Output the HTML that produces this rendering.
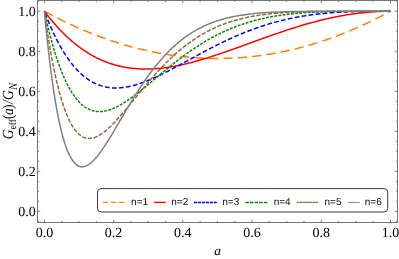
<!DOCTYPE html>
<html><head><meta charset="utf-8"><title>Geff(a)/GN</title><style>
html,body{margin:0;padding:0;background:#fff;}
body{width:399px;height:259px;overflow:hidden;font-family:"Liberation Serif",serif;}
svg{display:block;will-change:transform;text-rendering:geometricPrecision;}
.sf{font-family:"Liberation Serif",serif;}
.ss{font-family:"Liberation Sans",sans-serif;}
</style></head><body>
<svg width="399" height="259" viewBox="0 0 399 259">
<defs><clipPath id="c"><rect x="37.5" y="0.5" width="360.0" height="222.0"/></clipPath></defs>
<g clip-path="url(#c)" stroke-linejoin="round">
<polyline fill="none" stroke="#ff8000" stroke-width="1.5" stroke-dasharray="9.3 5.1" points="44.40,11.25 45.27,11.72 46.13,12.19 47.00,12.66 47.86,13.12 48.73,13.58 49.59,14.04 50.46,14.50 51.32,14.95 52.19,15.40 53.05,15.85 53.92,16.30 54.78,16.75 55.65,17.19 56.51,17.63 57.38,18.07 58.24,18.50 59.11,18.93 59.97,19.37 60.84,19.79 61.70,20.22 62.57,20.64 63.44,21.07 64.30,21.48 65.17,21.90 66.03,22.32 66.90,22.73 67.76,23.14 68.63,23.54 69.49,23.95 70.36,24.35 71.22,24.75 72.09,25.15 72.95,25.54 73.82,25.94 74.68,26.33 75.55,26.72 76.41,27.10 77.28,27.49 78.14,27.87 79.01,28.25 79.88,28.62 80.74,29.00 81.61,29.37 82.47,29.74 83.34,30.11 84.20,30.47 85.07,30.83 85.93,31.19 86.80,31.55 87.66,31.91 88.53,32.26 89.39,32.61 90.26,32.96 91.12,33.30 91.99,33.65 92.85,33.99 93.72,34.33 94.58,34.66 95.45,35.00 96.31,35.33 97.18,35.66 98.05,35.98 98.91,36.31 99.78,36.63 100.64,36.95 101.51,37.27 102.37,37.58 103.24,37.90 104.10,38.21 104.97,38.51 105.83,38.82 106.70,39.12 107.56,39.42 108.43,39.72 109.29,40.02 110.16,40.31 111.02,40.61 111.89,40.89 112.75,41.18 113.62,41.47 114.49,41.75 115.35,42.03 116.22,42.30 117.08,42.58 117.95,42.85 118.81,43.12 119.68,43.39 120.54,43.66 121.41,43.92 122.27,44.18 123.14,44.44 124.00,44.69 124.87,44.95 125.73,45.20 126.60,45.45 127.46,45.70 128.33,45.94 129.19,46.18 130.06,46.42 130.93,46.66 131.79,46.89 132.66,47.13 133.52,47.36 134.39,47.58 135.25,47.81 136.12,48.03 136.98,48.25 137.85,48.47 138.71,48.69 139.58,48.90 140.44,49.11 141.31,49.32 142.17,49.53 143.04,49.73 143.90,49.93 144.77,50.13 145.63,50.33 146.50,50.53 147.36,50.72 148.23,50.91 149.10,51.10 149.96,51.28 150.83,51.46 151.69,51.64 152.56,51.82 153.42,52.00 154.29,52.17 155.15,52.34 156.02,52.51 156.88,52.68 157.75,52.84 158.61,53.00 159.48,53.16 160.34,53.32 161.21,53.48 162.07,53.63 162.94,53.78 163.80,53.92 164.67,54.07 165.54,54.21 166.40,54.35 167.27,54.49 168.13,54.63 169.00,54.76 169.86,54.89 170.73,55.02 171.59,55.15 172.46,55.27 173.32,55.39 174.19,55.51 175.05,55.63 175.92,55.74 176.78,55.85 177.65,55.96 178.51,56.07 179.38,56.18 180.24,56.28 181.11,56.38 181.97,56.48 182.84,56.57 183.71,56.67 184.57,56.76 185.44,56.85 186.30,56.93 187.17,57.02 188.03,57.10 188.90,57.18 189.76,57.25 190.63,57.33 191.49,57.40 192.36,57.47 193.22,57.54 194.09,57.60 194.95,57.66 195.82,57.72 196.68,57.78 197.55,57.84 198.41,57.89 199.28,57.94 200.15,57.99 201.01,58.04 201.88,58.08 202.74,58.12 203.61,58.16 204.47,58.20 205.34,58.23 206.20,58.26 207.07,58.29 207.93,58.32 208.80,58.34 209.66,58.37 210.53,58.39 211.39,58.40 212.26,58.42 213.12,58.43 213.99,58.44 214.85,58.45 215.72,58.46 216.58,58.46 217.45,58.46 218.32,58.46 219.18,58.46 220.05,58.45 220.91,58.44 221.78,58.43 222.64,58.42 223.51,58.40 224.37,58.39 225.24,58.37 226.10,58.34 226.97,58.32 227.83,58.29 228.70,58.26 229.56,58.23 230.43,58.20 231.29,58.16 232.16,58.12 233.02,58.08 233.89,58.04 234.76,57.99 235.62,57.94 236.49,57.89 237.35,57.84 238.22,57.78 239.08,57.72 239.95,57.66 240.81,57.60 241.68,57.54 242.54,57.47 243.41,57.40 244.27,57.33 245.14,57.25 246.00,57.18 246.87,57.10 247.73,57.02 248.60,56.93 249.46,56.85 250.33,56.76 251.19,56.67 252.06,56.57 252.93,56.48 253.79,56.38 254.66,56.28 255.52,56.18 256.39,56.07 257.25,55.96 258.12,55.85 258.98,55.74 259.85,55.63 260.71,55.51 261.58,55.39 262.44,55.27 263.31,55.15 264.17,55.02 265.04,54.89 265.90,54.76 266.77,54.63 267.63,54.49 268.50,54.35 269.37,54.21 270.23,54.07 271.10,53.92 271.96,53.78 272.83,53.63 273.69,53.48 274.56,53.32 275.42,53.16 276.29,53.00 277.15,52.84 278.02,52.68 278.88,52.51 279.75,52.34 280.61,52.17 281.48,52.00 282.34,51.82 283.21,51.64 284.07,51.46 284.94,51.28 285.80,51.10 286.67,50.91 287.54,50.72 288.40,50.53 289.27,50.33 290.13,50.13 291.00,49.93 291.86,49.73 292.73,49.53 293.59,49.32 294.46,49.11 295.32,48.90 296.19,48.69 297.05,48.47 297.92,48.25 298.78,48.03 299.65,47.81 300.51,47.58 301.38,47.36 302.24,47.13 303.11,46.89 303.98,46.66 304.84,46.42 305.71,46.18 306.57,45.94 307.44,45.70 308.30,45.45 309.17,45.20 310.03,44.95 310.90,44.69 311.76,44.44 312.63,44.18 313.49,43.92 314.36,43.66 315.22,43.39 316.09,43.12 316.95,42.85 317.82,42.58 318.68,42.30 319.55,42.03 320.41,41.75 321.28,41.47 322.15,41.18 323.01,40.89 323.88,40.61 324.74,40.31 325.61,40.02 326.47,39.72 327.34,39.42 328.20,39.12 329.07,38.82 329.93,38.51 330.80,38.21 331.66,37.90 332.53,37.58 333.39,37.27 334.26,36.95 335.12,36.63 335.99,36.31 336.85,35.98 337.72,35.66 338.58,35.33 339.45,35.00 340.32,34.66 341.18,34.33 342.05,33.99 342.91,33.65 343.78,33.30 344.64,32.96 345.51,32.61 346.37,32.26 347.24,31.91 348.10,31.55 348.97,31.19 349.83,30.83 350.70,30.47 351.56,30.11 352.43,29.74 353.29,29.37 354.16,29.00 355.02,28.62 355.89,28.25 356.76,27.87 357.62,27.49 358.49,27.10 359.35,26.72 360.22,26.33 361.08,25.94 361.95,25.54 362.81,25.15 363.68,24.75 364.54,24.35 365.41,23.95 366.27,23.54 367.14,23.14 368.00,22.73 368.87,22.32 369.73,21.90 370.60,21.48 371.46,21.07 372.33,20.64 373.20,20.22 374.06,19.79 374.93,19.37 375.79,18.93 376.66,18.50 377.52,18.07 378.39,17.63 379.25,17.19 380.12,16.75 380.98,16.30 381.85,15.85 382.71,15.40 383.58,14.95 384.44,14.50 385.31,14.04 386.17,13.58 387.04,13.12 387.90,12.66 388.77,12.19 389.63,11.72 390.50,11.25"/>
<polyline fill="none" stroke="#ff0000" stroke-width="1.5" points="44.40,11.25 45.27,12.40 46.13,13.53 47.00,14.65 47.86,15.76 48.73,16.85 49.59,17.93 50.46,18.99 51.32,20.05 52.19,21.08 53.05,22.10 53.92,23.11 54.78,24.11 55.65,25.09 56.51,26.06 57.38,27.02 58.24,27.96 59.11,28.89 59.97,29.81 60.84,30.71 61.70,31.60 62.57,32.48 63.44,33.34 64.30,34.19 65.17,35.04 66.03,35.86 66.90,36.68 67.76,37.48 68.63,38.27 69.49,39.05 70.36,39.82 71.22,40.57 72.09,41.32 72.95,42.05 73.82,42.77 74.68,43.47 75.55,44.17 76.41,44.85 77.28,45.53 78.14,46.19 79.01,46.84 79.88,47.48 80.74,48.11 81.61,48.73 82.47,49.33 83.34,49.93 84.20,50.51 85.07,51.09 85.93,51.65 86.80,52.20 87.66,52.75 88.53,53.28 89.39,53.80 90.26,54.31 91.12,54.82 91.99,55.31 92.85,55.79 93.72,56.26 94.58,56.72 95.45,57.17 96.31,57.62 97.18,58.05 98.05,58.47 98.91,58.88 99.78,59.29 100.64,59.68 101.51,60.07 102.37,60.45 103.24,60.81 104.10,61.17 104.97,61.52 105.83,61.86 106.70,62.19 107.56,62.51 108.43,62.83 109.29,63.13 110.16,63.43 111.02,63.72 111.89,64.00 112.75,64.27 113.62,64.53 114.49,64.79 115.35,65.03 116.22,65.27 117.08,65.50 117.95,65.73 118.81,65.94 119.68,66.15 120.54,66.35 121.41,66.54 122.27,66.72 123.14,66.90 124.00,67.07 124.87,67.23 125.73,67.38 126.60,67.53 127.46,67.67 128.33,67.80 129.19,67.93 130.06,68.05 130.93,68.16 131.79,68.27 132.66,68.36 133.52,68.46 134.39,68.54 135.25,68.62 136.12,68.69 136.98,68.76 137.85,68.81 138.71,68.87 139.58,68.91 140.44,68.95 141.31,68.99 142.17,69.01 143.04,69.04 143.90,69.05 144.77,69.06 145.63,69.06 146.50,69.06 147.36,69.05 148.23,69.04 149.10,69.02 149.96,69.00 150.83,68.97 151.69,68.93 152.56,68.89 153.42,68.85 154.29,68.79 155.15,68.74 156.02,68.68 156.88,68.61 157.75,68.54 158.61,68.46 159.48,68.38 160.34,68.29 161.21,68.20 162.07,68.11 162.94,68.00 163.80,67.90 164.67,67.79 165.54,67.68 166.40,67.56 167.27,67.43 168.13,67.31 169.00,67.17 169.86,67.04 170.73,66.90 171.59,66.75 172.46,66.61 173.32,66.45 174.19,66.30 175.05,66.14 175.92,65.97 176.78,65.81 177.65,65.64 178.51,65.46 179.38,65.28 180.24,65.10 181.11,64.91 181.97,64.72 182.84,64.53 183.71,64.34 184.57,64.14 185.44,63.93 186.30,63.73 187.17,63.52 188.03,63.31 188.90,63.09 189.76,62.87 190.63,62.65 191.49,62.43 192.36,62.20 193.22,61.97 194.09,61.74 194.95,61.51 195.82,61.27 196.68,61.03 197.55,60.79 198.41,60.54 199.28,60.29 200.15,60.04 201.01,59.79 201.88,59.54 202.74,59.28 203.61,59.02 204.47,58.76 205.34,58.50 206.20,58.23 207.07,57.96 207.93,57.69 208.80,57.42 209.66,57.15 210.53,56.87 211.39,56.60 212.26,56.32 213.12,56.04 213.99,55.76 214.85,55.47 215.72,55.19 216.58,54.90 217.45,54.61 218.32,54.32 219.18,54.03 220.05,53.74 220.91,53.44 221.78,53.15 222.64,52.85 223.51,52.55 224.37,52.26 225.24,51.96 226.10,51.65 226.97,51.35 227.83,51.05 228.70,50.75 229.56,50.44 230.43,50.14 231.29,49.83 232.16,49.52 233.02,49.21 233.89,48.91 234.76,48.60 235.62,48.29 236.49,47.98 237.35,47.67 238.22,47.35 239.08,47.04 239.95,46.73 240.81,46.42 241.68,46.10 242.54,45.79 243.41,45.48 244.27,45.16 245.14,44.85 246.00,44.53 246.87,44.22 247.73,43.90 248.60,43.59 249.46,43.27 250.33,42.96 251.19,42.65 252.06,42.33 252.93,42.02 253.79,41.70 254.66,41.39 255.52,41.07 256.39,40.76 257.25,40.45 258.12,40.13 258.98,39.82 259.85,39.51 260.71,39.20 261.58,38.89 262.44,38.58 263.31,38.26 264.17,37.95 265.04,37.65 265.90,37.34 266.77,37.03 267.63,36.72 268.50,36.41 269.37,36.11 270.23,35.80 271.10,35.50 271.96,35.20 272.83,34.89 273.69,34.59 274.56,34.29 275.42,33.99 276.29,33.69 277.15,33.39 278.02,33.10 278.88,32.80 279.75,32.51 280.61,32.21 281.48,31.92 282.34,31.63 283.21,31.34 284.07,31.05 284.94,30.76 285.80,30.48 286.67,30.19 287.54,29.91 288.40,29.62 289.27,29.34 290.13,29.06 291.00,28.78 291.86,28.51 292.73,28.23 293.59,27.96 294.46,27.69 295.32,27.42 296.19,27.15 297.05,26.88 297.92,26.61 298.78,26.35 299.65,26.09 300.51,25.83 301.38,25.57 302.24,25.31 303.11,25.05 303.98,24.80 304.84,24.55 305.71,24.30 306.57,24.05 307.44,23.80 308.30,23.56 309.17,23.32 310.03,23.08 310.90,22.84 311.76,22.60 312.63,22.36 313.49,22.13 314.36,21.90 315.22,21.67 316.09,21.45 316.95,21.22 317.82,21.00 318.68,20.78 319.55,20.56 320.41,20.34 321.28,20.13 322.15,19.92 323.01,19.71 323.88,19.50 324.74,19.30 325.61,19.09 326.47,18.89 327.34,18.70 328.20,18.50 329.07,18.31 329.93,18.12 330.80,17.93 331.66,17.74 332.53,17.56 333.39,17.37 334.26,17.20 335.12,17.02 335.99,16.84 336.85,16.67 337.72,16.50 338.58,16.34 339.45,16.17 340.32,16.01 341.18,15.85 342.05,15.69 342.91,15.54 343.78,15.39 344.64,15.24 345.51,15.09 346.37,14.95 347.24,14.81 348.10,14.67 348.97,14.53 349.83,14.40 350.70,14.27 351.56,14.14 352.43,14.01 353.29,13.89 354.16,13.77 355.02,13.65 355.89,13.54 356.76,13.43 357.62,13.32 358.49,13.21 359.35,13.11 360.22,13.01 361.08,12.91 361.95,12.81 362.81,12.72 363.68,12.63 364.54,12.54 365.41,12.46 366.27,12.38 367.14,12.30 368.00,12.22 368.87,12.15 369.73,12.08 370.60,12.01 371.46,11.95 372.33,11.89 373.20,11.83 374.06,11.77 374.93,11.72 375.79,11.67 376.66,11.62 377.52,11.57 378.39,11.53 379.25,11.49 380.12,11.46 380.98,11.42 381.85,11.39 382.71,11.37 383.58,11.34 384.44,11.32 385.31,11.30 386.17,11.29 387.04,11.27 387.90,11.26 388.77,11.26 389.63,11.25 390.50,11.25"/>
<polyline fill="none" stroke="#0000ff" stroke-width="1.5" stroke-dasharray="4.7 2.35" stroke-dashoffset="5.05" points="44.40,11.25 45.27,13.53 46.13,15.76 47.00,17.95 47.86,20.09 48.73,22.19 49.59,24.25 50.46,26.26 51.32,28.24 52.19,30.17 53.05,32.05 53.92,33.90 54.78,35.71 55.65,37.48 56.51,39.20 57.38,40.89 58.24,42.54 59.11,44.16 59.97,45.73 60.84,47.27 61.70,48.78 62.57,50.24 63.44,51.67 64.30,53.07 65.17,54.43 66.03,55.76 66.90,57.05 67.76,58.31 68.63,59.54 69.49,60.74 70.36,61.90 71.22,63.03 72.09,64.13 72.95,65.21 73.82,66.25 74.68,67.26 75.55,68.24 76.41,69.19 77.28,70.11 78.14,71.01 79.01,71.88 79.88,72.72 80.74,73.53 81.61,74.32 82.47,75.08 83.34,75.81 84.20,76.52 85.07,77.20 85.93,77.86 86.80,78.50 87.66,79.11 88.53,79.70 89.39,80.26 90.26,80.80 91.12,81.32 91.99,81.81 92.85,82.29 93.72,82.74 94.58,83.17 95.45,83.58 96.31,83.97 97.18,84.34 98.05,84.69 98.91,85.02 99.78,85.33 100.64,85.62 101.51,85.90 102.37,86.15 103.24,86.39 104.10,86.61 104.97,86.81 105.83,86.99 106.70,87.16 107.56,87.31 108.43,87.44 109.29,87.56 110.16,87.67 111.02,87.75 111.89,87.83 112.75,87.88 113.62,87.92 114.49,87.95 115.35,87.97 116.22,87.97 117.08,87.95 117.95,87.93 118.81,87.89 119.68,87.84 120.54,87.77 121.41,87.69 122.27,87.60 123.14,87.50 124.00,87.39 124.87,87.27 125.73,87.13 126.60,86.98 127.46,86.83 128.33,86.66 129.19,86.48 130.06,86.29 130.93,86.10 131.79,85.89 132.66,85.67 133.52,85.45 134.39,85.21 135.25,84.97 136.12,84.72 136.98,84.46 137.85,84.19 138.71,83.91 139.58,83.63 140.44,83.34 141.31,83.04 142.17,82.73 143.04,82.42 143.90,82.10 144.77,81.77 145.63,81.44 146.50,81.10 147.36,80.76 148.23,80.40 149.10,80.05 149.96,79.69 150.83,79.32 151.69,78.94 152.56,78.57 153.42,78.18 154.29,77.79 155.15,77.40 156.02,77.00 156.88,76.60 157.75,76.20 158.61,75.79 159.48,75.37 160.34,74.96 161.21,74.54 162.07,74.11 162.94,73.68 163.80,73.25 164.67,72.82 165.54,72.38 166.40,71.94 167.27,71.50 168.13,71.05 169.00,70.61 169.86,70.16 170.73,69.71 171.59,69.25 172.46,68.80 173.32,68.34 174.19,67.88 175.05,67.42 175.92,66.96 176.78,66.49 177.65,66.03 178.51,65.56 179.38,65.09 180.24,64.63 181.11,64.16 181.97,63.69 182.84,63.22 183.71,62.75 184.57,62.28 185.44,61.80 186.30,61.33 187.17,60.86 188.03,60.39 188.90,59.92 189.76,59.44 190.63,58.97 191.49,58.50 192.36,58.03 193.22,57.56 194.09,57.09 194.95,56.62 195.82,56.15 196.68,55.68 197.55,55.21 198.41,54.74 199.28,54.28 200.15,53.81 201.01,53.35 201.88,52.89 202.74,52.42 203.61,51.96 204.47,51.50 205.34,51.05 206.20,50.59 207.07,50.14 207.93,49.68 208.80,49.23 209.66,48.78 210.53,48.33 211.39,47.89 212.26,47.44 213.12,47.00 213.99,46.56 214.85,46.12 215.72,45.68 216.58,45.25 217.45,44.81 218.32,44.38 219.18,43.96 220.05,43.53 220.91,43.11 221.78,42.68 222.64,42.27 223.51,41.85 224.37,41.43 225.24,41.02 226.10,40.61 226.97,40.21 227.83,39.80 228.70,39.40 229.56,39.00 230.43,38.61 231.29,38.21 232.16,37.82 233.02,37.43 233.89,37.05 234.76,36.67 235.62,36.29 236.49,35.91 237.35,35.54 238.22,35.16 239.08,34.80 239.95,34.43 240.81,34.07 241.68,33.71 242.54,33.35 243.41,33.00 244.27,32.65 245.14,32.30 246.00,31.96 246.87,31.62 247.73,31.28 248.60,30.94 249.46,30.61 250.33,30.28 251.19,29.96 252.06,29.63 252.93,29.31 253.79,29.00 254.66,28.68 255.52,28.37 256.39,28.07 257.25,27.76 258.12,27.46 258.98,27.16 259.85,26.87 260.71,26.58 261.58,26.29 262.44,26.01 263.31,25.73 264.17,25.45 265.04,25.17 265.90,24.90 266.77,24.63 267.63,24.37 268.50,24.10 269.37,23.84 270.23,23.59 271.10,23.33 271.96,23.08 272.83,22.84 273.69,22.59 274.56,22.35 275.42,22.12 276.29,21.88 277.15,21.65 278.02,21.42 278.88,21.20 279.75,20.98 280.61,20.76 281.48,20.54 282.34,20.33 283.21,20.12 284.07,19.91 284.94,19.71 285.80,19.51 286.67,19.31 287.54,19.12 288.40,18.93 289.27,18.74 290.13,18.55 291.00,18.37 291.86,18.19 292.73,18.01 293.59,17.84 294.46,17.67 295.32,17.50 296.19,17.33 297.05,17.17 297.92,17.01 298.78,16.85 299.65,16.70 300.51,16.55 301.38,16.40 302.24,16.25 303.11,16.11 303.98,15.97 304.84,15.83 305.71,15.70 306.57,15.56 307.44,15.43 308.30,15.31 309.17,15.18 310.03,15.06 310.90,14.94 311.76,14.82 312.63,14.71 313.49,14.59 314.36,14.48 315.22,14.38 316.09,14.27 316.95,14.17 317.82,14.07 318.68,13.97 319.55,13.87 320.41,13.78 321.28,13.69 322.15,13.60 323.01,13.51 323.88,13.42 324.74,13.34 325.61,13.26 326.47,13.18 327.34,13.10 328.20,13.03 329.07,12.96 329.93,12.89 330.80,12.82 331.66,12.75 332.53,12.69 333.39,12.62 334.26,12.56 335.12,12.50 335.99,12.44 336.85,12.39 337.72,12.33 338.58,12.28 339.45,12.23 340.32,12.18 341.18,12.14 342.05,12.09 342.91,12.05 343.78,12.00 344.64,11.96 345.51,11.92 346.37,11.88 347.24,11.85 348.10,11.81 348.97,11.78 349.83,11.75 350.70,11.72 351.56,11.69 352.43,11.66 353.29,11.63 354.16,11.60 355.02,11.58 355.89,11.56 356.76,11.53 357.62,11.51 358.49,11.49 359.35,11.47 360.22,11.46 361.08,11.44 361.95,11.42 362.81,11.41 363.68,11.39 364.54,11.38 365.41,11.37 366.27,11.36 367.14,11.34 368.00,11.33 368.87,11.32 369.73,11.32 370.60,11.31 371.46,11.30 372.33,11.29 373.20,11.29 374.06,11.28 374.93,11.28 375.79,11.27 376.66,11.27 377.52,11.27 378.39,11.26 379.25,11.26 380.12,11.26 380.98,11.26 381.85,11.25 382.71,11.25 383.58,11.25 384.44,11.25 385.31,11.25 386.17,11.25 387.04,11.25 387.90,11.25 388.77,11.25 389.63,11.25 390.50,11.25"/>
<polyline fill="none" stroke="#008c00" stroke-width="1.5" stroke-dasharray="2.9 1.3" points="44.40,11.25 45.27,15.21 46.13,19.06 47.00,22.80 47.86,26.44 48.73,29.98 49.59,33.41 50.46,36.75 51.32,39.99 52.19,43.13 53.05,46.18 53.92,49.13 54.78,52.00 55.65,54.78 56.51,57.47 57.38,60.08 58.24,62.60 59.11,65.04 59.97,67.40 60.84,69.68 61.70,71.88 62.57,74.01 63.44,76.06 64.30,78.04 65.17,79.94 66.03,81.78 66.90,83.55 67.76,85.25 68.63,86.88 69.49,88.45 70.36,89.96 71.22,91.40 72.09,92.78 72.95,94.11 73.82,95.37 74.68,96.58 75.55,97.73 76.41,98.83 77.28,99.87 78.14,100.86 79.01,101.80 79.88,102.68 80.74,103.52 81.61,104.32 82.47,105.06 83.34,105.76 84.20,106.41 85.07,107.02 85.93,107.59 86.80,108.11 87.66,108.59 88.53,109.04 89.39,109.44 90.26,109.81 91.12,110.14 91.99,110.43 92.85,110.69 93.72,110.91 94.58,111.10 95.45,111.26 96.31,111.38 97.18,111.47 98.05,111.54 98.91,111.57 99.78,111.57 100.64,111.55 101.51,111.50 102.37,111.42 103.24,111.32 104.10,111.19 104.97,111.03 105.83,110.86 106.70,110.66 107.56,110.43 108.43,110.19 109.29,109.92 110.16,109.63 111.02,109.33 111.89,109.00 112.75,108.66 113.62,108.30 114.49,107.92 115.35,107.52 116.22,107.10 117.08,106.68 117.95,106.23 118.81,105.77 119.68,105.30 120.54,104.81 121.41,104.31 122.27,103.79 123.14,103.27 124.00,102.73 124.87,102.18 125.73,101.62 126.60,101.05 127.46,100.47 128.33,99.88 129.19,99.28 130.06,98.67 130.93,98.05 131.79,97.42 132.66,96.79 133.52,96.15 134.39,95.50 135.25,94.85 136.12,94.19 136.98,93.52 137.85,92.85 138.71,92.17 139.58,91.49 140.44,90.80 141.31,90.11 142.17,89.42 143.04,88.72 143.90,88.02 144.77,87.31 145.63,86.61 146.50,85.90 147.36,85.18 148.23,84.47 149.10,83.75 149.96,83.03 150.83,82.31 151.69,81.59 152.56,80.87 153.42,80.15 154.29,79.43 155.15,78.71 156.02,77.99 156.88,77.26 157.75,76.54 158.61,75.82 159.48,75.10 160.34,74.38 161.21,73.66 162.07,72.95 162.94,72.23 163.80,71.52 164.67,70.81 165.54,70.10 166.40,69.39 167.27,68.68 168.13,67.98 169.00,67.28 169.86,66.58 170.73,65.89 171.59,65.20 172.46,64.51 173.32,63.82 174.19,63.14 175.05,62.46 175.92,61.79 176.78,61.11 177.65,60.45 178.51,59.78 179.38,59.12 180.24,58.46 181.11,57.81 181.97,57.16 182.84,56.52 183.71,55.88 184.57,55.24 185.44,54.61 186.30,53.98 187.17,53.36 188.03,52.74 188.90,52.13 189.76,51.52 190.63,50.92 191.49,50.32 192.36,49.73 193.22,49.14 194.09,48.56 194.95,47.98 195.82,47.40 196.68,46.83 197.55,46.27 198.41,45.71 199.28,45.16 200.15,44.61 201.01,44.07 201.88,43.53 202.74,43.00 203.61,42.47 204.47,41.95 205.34,41.43 206.20,40.92 207.07,40.42 207.93,39.92 208.80,39.42 209.66,38.93 210.53,38.45 211.39,37.97 212.26,37.49 213.12,37.03 213.99,36.56 214.85,36.10 215.72,35.65 216.58,35.21 217.45,34.76 218.32,34.33 219.18,33.90 220.05,33.47 220.91,33.05 221.78,32.64 222.64,32.23 223.51,31.82 224.37,31.42 225.24,31.03 226.10,30.64 226.97,30.26 227.83,29.88 228.70,29.50 229.56,29.13 230.43,28.77 231.29,28.41 232.16,28.06 233.02,27.71 233.89,27.37 234.76,27.03 235.62,26.70 236.49,26.37 237.35,26.05 238.22,25.73 239.08,25.41 239.95,25.10 240.81,24.80 241.68,24.50 242.54,24.21 243.41,23.92 244.27,23.63 245.14,23.35 246.00,23.07 246.87,22.80 247.73,22.53 248.60,22.27 249.46,22.01 250.33,21.76 251.19,21.51 252.06,21.26 252.93,21.02 253.79,20.78 254.66,20.55 255.52,20.32 256.39,20.09 257.25,19.87 258.12,19.66 258.98,19.44 259.85,19.23 260.71,19.03 261.58,18.83 262.44,18.63 263.31,18.44 264.17,18.25 265.04,18.06 265.90,17.88 266.77,17.70 267.63,17.52 268.50,17.35 269.37,17.18 270.23,17.02 271.10,16.85 271.96,16.70 272.83,16.54 273.69,16.39 274.56,16.24 275.42,16.10 276.29,15.95 277.15,15.81 278.02,15.68 278.88,15.54 279.75,15.41 280.61,15.29 281.48,15.16 282.34,15.04 283.21,14.92 284.07,14.81 284.94,14.69 285.80,14.58 286.67,14.47 287.54,14.37 288.40,14.27 289.27,14.17 290.13,14.07 291.00,13.97 291.86,13.88 292.73,13.79 293.59,13.70 294.46,13.62 295.32,13.53 296.19,13.45 297.05,13.37 297.92,13.29 298.78,13.22 299.65,13.15 300.51,13.08 301.38,13.01 302.24,12.94 303.11,12.87 303.98,12.81 304.84,12.75 305.71,12.69 306.57,12.63 307.44,12.58 308.30,12.52 309.17,12.47 310.03,12.42 310.90,12.37 311.76,12.32 312.63,12.28 313.49,12.23 314.36,12.19 315.22,12.15 316.09,12.11 316.95,12.07 317.82,12.03 318.68,11.99 319.55,11.96 320.41,11.92 321.28,11.89 322.15,11.86 323.01,11.83 323.88,11.80 324.74,11.77 325.61,11.75 326.47,11.72 327.34,11.69 328.20,11.67 329.07,11.65 329.93,11.63 330.80,11.61 331.66,11.58 332.53,11.57 333.39,11.55 334.26,11.53 335.12,11.51 335.99,11.50 336.85,11.48 337.72,11.47 338.58,11.45 339.45,11.44 340.32,11.43 341.18,11.42 342.05,11.40 342.91,11.39 343.78,11.38 344.64,11.37 345.51,11.36 346.37,11.36 347.24,11.35 348.10,11.34 348.97,11.33 349.83,11.33 350.70,11.32 351.56,11.31 352.43,11.31 353.29,11.30 354.16,11.30 355.02,11.29 355.89,11.29 356.76,11.29 357.62,11.28 358.49,11.28 359.35,11.28 360.22,11.27 361.08,11.27 361.95,11.27 362.81,11.27 363.68,11.26 364.54,11.26 365.41,11.26 366.27,11.26 367.14,11.26 368.00,11.26 368.87,11.26 369.73,11.26 370.60,11.25 371.46,11.25 372.33,11.25 373.20,11.25 374.06,11.25 374.93,11.25 375.79,11.25 376.66,11.25 377.52,11.25 378.39,11.25 379.25,11.25 380.12,11.25 380.98,11.25 381.85,11.25 382.71,11.25 383.58,11.25 384.44,11.25 385.31,11.25 386.17,11.25 387.04,11.25 387.90,11.25 388.77,11.25 389.63,11.25 390.50,11.25"/>
<polyline fill="none" stroke="#996633" stroke-width="1.5" stroke-dasharray="4.2 1.6" points="44.40,11.25 45.27,17.50 46.13,23.53 47.00,29.34 47.86,34.95 48.73,40.36 49.59,45.57 50.46,50.59 51.32,55.41 52.19,60.06 53.05,64.53 53.92,68.82 54.78,72.94 55.65,76.89 56.51,80.69 57.38,84.32 58.24,87.80 59.11,91.13 59.97,94.32 60.84,97.36 61.70,100.26 62.57,103.03 63.44,105.67 64.30,108.18 65.17,110.56 66.03,112.82 66.90,114.96 67.76,116.99 68.63,118.91 69.49,120.72 70.36,122.42 71.22,124.01 72.09,125.51 72.95,126.91 73.82,128.22 74.68,129.43 75.55,130.56 76.41,131.60 77.28,132.55 78.14,133.42 79.01,134.22 79.88,134.93 80.74,135.58 81.61,136.15 82.47,136.65 83.34,137.08 84.20,137.45 85.07,137.75 85.93,137.99 86.80,138.17 87.66,138.30 88.53,138.37 89.39,138.38 90.26,138.34 91.12,138.26 91.99,138.12 92.85,137.94 93.72,137.71 94.58,137.44 95.45,137.12 96.31,136.77 97.18,136.38 98.05,135.95 98.91,135.48 99.78,134.98 100.64,134.45 101.51,133.88 102.37,133.28 103.24,132.66 104.10,132.00 104.97,131.32 105.83,130.62 106.70,129.89 107.56,129.13 108.43,128.35 109.29,127.56 110.16,126.74 111.02,125.90 111.89,125.04 112.75,124.17 113.62,123.28 114.49,122.38 115.35,121.46 116.22,120.52 117.08,119.58 117.95,118.62 118.81,117.65 119.68,116.67 120.54,115.68 121.41,114.68 122.27,113.68 123.14,112.66 124.00,111.64 124.87,110.61 125.73,109.58 126.60,108.54 127.46,107.50 128.33,106.45 129.19,105.40 130.06,104.34 130.93,103.29 131.79,102.23 132.66,101.17 133.52,100.11 134.39,99.05 135.25,97.99 136.12,96.93 136.98,95.87 137.85,94.82 138.71,93.76 139.58,92.71 140.44,91.66 141.31,90.61 142.17,89.56 143.04,88.52 143.90,87.48 144.77,86.45 145.63,85.42 146.50,84.39 147.36,83.37 148.23,82.35 149.10,81.34 149.96,80.34 150.83,79.34 151.69,78.35 152.56,77.36 153.42,76.38 154.29,75.40 155.15,74.44 156.02,73.48 156.88,72.52 157.75,71.58 158.61,70.64 159.48,69.71 160.34,68.78 161.21,67.87 162.07,66.96 162.94,66.06 163.80,65.17 164.67,64.28 165.54,63.41 166.40,62.54 167.27,61.68 168.13,60.83 169.00,59.99 169.86,59.16 170.73,58.33 171.59,57.52 172.46,56.71 173.32,55.91 174.19,55.12 175.05,54.34 175.92,53.57 176.78,52.81 177.65,52.05 178.51,51.31 179.38,50.57 180.24,49.85 181.11,49.13 181.97,48.42 182.84,47.72 183.71,47.03 184.57,46.34 185.44,45.67 186.30,45.01 187.17,44.35 188.03,43.70 188.90,43.07 189.76,42.44 190.63,41.82 191.49,41.20 192.36,40.60 193.22,40.01 194.09,39.42 194.95,38.84 195.82,38.27 196.68,37.71 197.55,37.16 198.41,36.62 199.28,36.08 200.15,35.56 201.01,35.04 201.88,34.53 202.74,34.02 203.61,33.53 204.47,33.04 205.34,32.56 206.20,32.09 207.07,31.63 207.93,31.17 208.80,30.72 209.66,30.28 210.53,29.85 211.39,29.42 212.26,29.01 213.12,28.59 213.99,28.19 214.85,27.79 215.72,27.40 216.58,27.02 217.45,26.64 218.32,26.28 219.18,25.91 220.05,25.56 220.91,25.21 221.78,24.87 222.64,24.53 223.51,24.20 224.37,23.88 225.24,23.56 226.10,23.25 226.97,22.94 227.83,22.65 228.70,22.35 229.56,22.07 230.43,21.78 231.29,21.51 232.16,21.24 233.02,20.97 233.89,20.71 234.76,20.46 235.62,20.21 236.49,19.97 237.35,19.73 238.22,19.50 239.08,19.27 239.95,19.05 240.81,18.83 241.68,18.62 242.54,18.41 243.41,18.20 244.27,18.00 245.14,17.81 246.00,17.62 246.87,17.43 247.73,17.25 248.60,17.07 249.46,16.90 250.33,16.73 251.19,16.57 252.06,16.40 252.93,16.25 253.79,16.09 254.66,15.94 255.52,15.80 256.39,15.65 257.25,15.52 258.12,15.38 258.98,15.25 259.85,15.12 260.71,14.99 261.58,14.87 262.44,14.75 263.31,14.64 264.17,14.52 265.04,14.41 265.90,14.31 266.77,14.20 267.63,14.10 268.50,14.00 269.37,13.91 270.23,13.81 271.10,13.72 271.96,13.64 272.83,13.55 273.69,13.47 274.56,13.39 275.42,13.31 276.29,13.23 277.15,13.16 278.02,13.09 278.88,13.02 279.75,12.95 280.61,12.89 281.48,12.82 282.34,12.76 283.21,12.70 284.07,12.64 284.94,12.59 285.80,12.53 286.67,12.48 287.54,12.43 288.40,12.38 289.27,12.34 290.13,12.29 291.00,12.25 291.86,12.20 292.73,12.16 293.59,12.12 294.46,12.09 295.32,12.05 296.19,12.01 297.05,11.98 297.92,11.95 298.78,11.91 299.65,11.88 300.51,11.85 301.38,11.83 302.24,11.80 303.11,11.77 303.98,11.75 304.84,11.72 305.71,11.70 306.57,11.68 307.44,11.65 308.30,11.63 309.17,11.61 310.03,11.60 310.90,11.58 311.76,11.56 312.63,11.54 313.49,11.53 314.36,11.51 315.22,11.50 316.09,11.48 316.95,11.47 317.82,11.46 318.68,11.45 319.55,11.43 320.41,11.42 321.28,11.41 322.15,11.40 323.01,11.39 323.88,11.38 324.74,11.38 325.61,11.37 326.47,11.36 327.34,11.35 328.20,11.35 329.07,11.34 329.93,11.33 330.80,11.33 331.66,11.32 332.53,11.32 333.39,11.31 334.26,11.31 335.12,11.30 335.99,11.30 336.85,11.30 337.72,11.29 338.58,11.29 339.45,11.29 340.32,11.28 341.18,11.28 342.05,11.28 342.91,11.27 343.78,11.27 344.64,11.27 345.51,11.27 346.37,11.27 347.24,11.27 348.10,11.26 348.97,11.26 349.83,11.26 350.70,11.26 351.56,11.26 352.43,11.26 353.29,11.26 354.16,11.26 355.02,11.26 355.89,11.26 356.76,11.25 357.62,11.25 358.49,11.25 359.35,11.25 360.22,11.25 361.08,11.25 361.95,11.25 362.81,11.25 363.68,11.25 364.54,11.25 365.41,11.25 366.27,11.25 367.14,11.25 368.00,11.25 368.87,11.25 369.73,11.25 370.60,11.25 371.46,11.25 372.33,11.25 373.20,11.25 374.06,11.25 374.93,11.25 375.79,11.25 376.66,11.25 377.52,11.25 378.39,11.25 379.25,11.25 380.12,11.25 380.98,11.25 381.85,11.25 382.71,11.25 383.58,11.25 384.44,11.25 385.31,11.25 386.17,11.25 387.04,11.25 387.90,11.25 388.77,11.25 389.63,11.25 390.50,11.25"/>
<polyline fill="none" stroke="#808080" stroke-width="1.5" points="44.40,11.25 45.27,20.39 46.13,29.14 47.00,37.51 47.86,45.53 48.73,53.19 49.59,60.51 50.46,67.50 51.32,74.17 52.19,80.52 53.05,86.57 53.92,92.33 54.78,97.81 55.65,103.01 56.51,107.94 57.38,112.62 58.24,117.05 59.11,121.23 59.97,125.18 60.84,128.90 61.70,132.40 62.57,135.69 63.44,138.78 64.30,141.67 65.17,144.36 66.03,146.87 66.90,149.20 67.76,151.36 68.63,153.35 69.49,155.18 70.36,156.85 71.22,158.37 72.09,159.75 72.95,160.99 73.82,162.10 74.68,163.07 75.55,163.92 76.41,164.65 77.28,165.27 78.14,165.78 79.01,166.17 79.88,166.47 80.74,166.67 81.61,166.77 82.47,166.78 83.34,166.71 84.20,166.55 85.07,166.31 85.93,166.00 86.80,165.61 87.66,165.16 88.53,164.63 89.39,164.05 90.26,163.40 91.12,162.70 91.99,161.94 92.85,161.12 93.72,160.26 94.58,159.35 95.45,158.40 96.31,157.40 97.18,156.36 98.05,155.29 98.91,154.18 99.78,153.03 100.64,151.86 101.51,150.65 102.37,149.42 103.24,148.16 104.10,146.87 104.97,145.56 105.83,144.24 106.70,142.89 107.56,141.52 108.43,140.14 109.29,138.75 110.16,137.34 111.02,135.92 111.89,134.48 112.75,133.04 113.62,131.59 114.49,130.13 115.35,128.67 116.22,127.20 117.08,125.72 117.95,124.25 118.81,122.77 119.68,121.29 120.54,119.81 121.41,118.33 122.27,116.85 123.14,115.37 124.00,113.89 124.87,112.42 125.73,110.96 126.60,109.49 127.46,108.04 128.33,106.59 129.19,105.14 130.06,103.70 130.93,102.27 131.79,100.85 132.66,99.44 133.52,98.03 134.39,96.64 135.25,95.25 136.12,93.87 136.98,92.51 137.85,91.15 138.71,89.81 139.58,88.48 140.44,87.16 141.31,85.85 142.17,84.55 143.04,83.27 143.90,82.00 144.77,80.74 145.63,79.49 146.50,78.26 147.36,77.04 148.23,75.83 149.10,74.64 149.96,73.46 150.83,72.30 151.69,71.15 152.56,70.01 153.42,68.88 154.29,67.78 155.15,66.68 156.02,65.60 156.88,64.53 157.75,63.48 158.61,62.44 159.48,61.41 160.34,60.40 161.21,59.41 162.07,58.42 162.94,57.45 163.80,56.50 164.67,55.56 165.54,54.63 166.40,53.72 167.27,52.82 168.13,51.94 169.00,51.07 169.86,50.21 170.73,49.36 171.59,48.53 172.46,47.72 173.32,46.91 174.19,46.12 175.05,45.35 175.92,44.58 176.78,43.83 177.65,43.09 178.51,42.37 179.38,41.65 180.24,40.95 181.11,40.26 181.97,39.59 182.84,38.92 183.71,38.27 184.57,37.63 185.44,37.00 186.30,36.39 187.17,35.78 188.03,35.19 188.90,34.60 189.76,34.03 190.63,33.47 191.49,32.92 192.36,32.38 193.22,31.86 194.09,31.34 194.95,30.83 195.82,30.33 196.68,29.85 197.55,29.37 198.41,28.90 199.28,28.44 200.15,27.99 201.01,27.56 201.88,27.13 202.74,26.71 203.61,26.29 204.47,25.89 205.34,25.50 206.20,25.11 207.07,24.73 207.93,24.37 208.80,24.00 209.66,23.65 210.53,23.31 211.39,22.97 212.26,22.64 213.12,22.32 213.99,22.00 214.85,21.70 215.72,21.40 216.58,21.11 217.45,20.82 218.32,20.54 219.18,20.27 220.05,20.00 220.91,19.74 221.78,19.49 222.64,19.24 223.51,19.00 224.37,18.77 225.24,18.54 226.10,18.31 226.97,18.10 227.83,17.88 228.70,17.68 229.56,17.48 230.43,17.28 231.29,17.09 232.16,16.90 233.02,16.72 233.89,16.55 234.76,16.37 235.62,16.21 236.49,16.04 237.35,15.89 238.22,15.73 239.08,15.58 239.95,15.44 240.81,15.30 241.68,15.16 242.54,15.02 243.41,14.89 244.27,14.77 245.14,14.65 246.00,14.53 246.87,14.41 247.73,14.30 248.60,14.19 249.46,14.09 250.33,13.98 251.19,13.88 252.06,13.79 252.93,13.69 253.79,13.60 254.66,13.52 255.52,13.43 256.39,13.35 257.25,13.27 258.12,13.19 258.98,13.12 259.85,13.05 260.71,12.98 261.58,12.91 262.44,12.84 263.31,12.78 264.17,12.72 265.04,12.66 265.90,12.60 266.77,12.55 267.63,12.49 268.50,12.44 269.37,12.39 270.23,12.34 271.10,12.30 271.96,12.25 272.83,12.21 273.69,12.17 274.56,12.13 275.42,12.09 276.29,12.05 277.15,12.02 278.02,11.98 278.88,11.95 279.75,11.92 280.61,11.89 281.48,11.86 282.34,11.83 283.21,11.80 284.07,11.78 284.94,11.75 285.80,11.73 286.67,11.70 287.54,11.68 288.40,11.66 289.27,11.64 290.13,11.62 291.00,11.60 291.86,11.58 292.73,11.57 293.59,11.55 294.46,11.53 295.32,11.52 296.19,11.50 297.05,11.49 297.92,11.48 298.78,11.47 299.65,11.45 300.51,11.44 301.38,11.43 302.24,11.42 303.11,11.41 303.98,11.40 304.84,11.39 305.71,11.38 306.57,11.38 307.44,11.37 308.30,11.36 309.17,11.35 310.03,11.35 310.90,11.34 311.76,11.34 312.63,11.33 313.49,11.33 314.36,11.32 315.22,11.32 316.09,11.31 316.95,11.31 317.82,11.30 318.68,11.30 319.55,11.30 320.41,11.29 321.28,11.29 322.15,11.29 323.01,11.28 323.88,11.28 324.74,11.28 325.61,11.28 326.47,11.27 327.34,11.27 328.20,11.27 329.07,11.27 329.93,11.27 330.80,11.27 331.66,11.27 332.53,11.26 333.39,11.26 334.26,11.26 335.12,11.26 335.99,11.26 336.85,11.26 337.72,11.26 338.58,11.26 339.45,11.26 340.32,11.26 341.18,11.26 342.05,11.25 342.91,11.25 343.78,11.25 344.64,11.25 345.51,11.25 346.37,11.25 347.24,11.25 348.10,11.25 348.97,11.25 349.83,11.25 350.70,11.25 351.56,11.25 352.43,11.25 353.29,11.25 354.16,11.25 355.02,11.25 355.89,11.25 356.76,11.25 357.62,11.25 358.49,11.25 359.35,11.25 360.22,11.25 361.08,11.25 361.95,11.25 362.81,11.25 363.68,11.25 364.54,11.25 365.41,11.25 366.27,11.25 367.14,11.25 368.00,11.25 368.87,11.25 369.73,11.25 370.60,11.25 371.46,11.25 372.33,11.25 373.20,11.25 374.06,11.25 374.93,11.25 375.79,11.25 376.66,11.25 377.52,11.25 378.39,11.25 379.25,11.25 380.12,11.25 380.98,11.25 381.85,11.25 382.71,11.25 383.58,11.25 384.44,11.25 385.31,11.25 386.17,11.25 387.04,11.25 387.90,11.25 388.77,11.25 389.63,11.25 390.50,11.25"/>
</g>
<rect x="37.5" y="0.5" width="360.0" height="222.0" fill="none" stroke="#757575" stroke-width="1"/>
<g stroke="#757575" stroke-width="0.9">
<line x1="44.40" y1="222.5" x2="44.40" y2="219.7"/>
<line x1="44.40" y1="0.5" x2="44.40" y2="3.3"/>
<line x1="61.70" y1="222.5" x2="61.70" y2="220.9"/>
<line x1="61.70" y1="0.5" x2="61.70" y2="2.1"/>
<line x1="79.01" y1="222.5" x2="79.01" y2="220.9"/>
<line x1="79.01" y1="0.5" x2="79.01" y2="2.1"/>
<line x1="96.32" y1="222.5" x2="96.32" y2="220.9"/>
<line x1="96.32" y1="0.5" x2="96.32" y2="2.1"/>
<line x1="113.62" y1="222.5" x2="113.62" y2="219.7"/>
<line x1="113.62" y1="0.5" x2="113.62" y2="3.3"/>
<line x1="130.93" y1="222.5" x2="130.93" y2="220.9"/>
<line x1="130.93" y1="0.5" x2="130.93" y2="2.1"/>
<line x1="148.23" y1="222.5" x2="148.23" y2="220.9"/>
<line x1="148.23" y1="0.5" x2="148.23" y2="2.1"/>
<line x1="165.54" y1="222.5" x2="165.54" y2="220.9"/>
<line x1="165.54" y1="0.5" x2="165.54" y2="2.1"/>
<line x1="182.84" y1="222.5" x2="182.84" y2="219.7"/>
<line x1="182.84" y1="0.5" x2="182.84" y2="3.3"/>
<line x1="200.15" y1="222.5" x2="200.15" y2="220.9"/>
<line x1="200.15" y1="0.5" x2="200.15" y2="2.1"/>
<line x1="217.45" y1="222.5" x2="217.45" y2="220.9"/>
<line x1="217.45" y1="0.5" x2="217.45" y2="2.1"/>
<line x1="234.76" y1="222.5" x2="234.76" y2="220.9"/>
<line x1="234.76" y1="0.5" x2="234.76" y2="2.1"/>
<line x1="252.06" y1="222.5" x2="252.06" y2="219.7"/>
<line x1="252.06" y1="0.5" x2="252.06" y2="3.3"/>
<line x1="269.37" y1="222.5" x2="269.37" y2="220.9"/>
<line x1="269.37" y1="0.5" x2="269.37" y2="2.1"/>
<line x1="286.67" y1="222.5" x2="286.67" y2="220.9"/>
<line x1="286.67" y1="0.5" x2="286.67" y2="2.1"/>
<line x1="303.98" y1="222.5" x2="303.98" y2="220.9"/>
<line x1="303.98" y1="0.5" x2="303.98" y2="2.1"/>
<line x1="321.28" y1="222.5" x2="321.28" y2="219.7"/>
<line x1="321.28" y1="0.5" x2="321.28" y2="3.3"/>
<line x1="338.59" y1="222.5" x2="338.59" y2="220.9"/>
<line x1="338.59" y1="0.5" x2="338.59" y2="2.1"/>
<line x1="355.89" y1="222.5" x2="355.89" y2="220.9"/>
<line x1="355.89" y1="0.5" x2="355.89" y2="2.1"/>
<line x1="373.20" y1="222.5" x2="373.20" y2="220.9"/>
<line x1="373.20" y1="0.5" x2="373.20" y2="2.1"/>
<line x1="390.50" y1="222.5" x2="390.50" y2="219.7"/>
<line x1="390.50" y1="0.5" x2="390.50" y2="3.3"/>
<line x1="37.5" y1="221.30" x2="39.1" y2="221.30"/>
<line x1="397.5" y1="221.30" x2="395.9" y2="221.30"/>
<line x1="37.5" y1="211.30" x2="40.3" y2="211.30"/>
<line x1="397.5" y1="211.30" x2="394.7" y2="211.30"/>
<line x1="37.5" y1="201.30" x2="39.1" y2="201.30"/>
<line x1="397.5" y1="201.30" x2="395.9" y2="201.30"/>
<line x1="37.5" y1="191.30" x2="39.1" y2="191.30"/>
<line x1="397.5" y1="191.30" x2="395.9" y2="191.30"/>
<line x1="37.5" y1="181.29" x2="39.1" y2="181.29"/>
<line x1="397.5" y1="181.29" x2="395.9" y2="181.29"/>
<line x1="37.5" y1="171.29" x2="40.3" y2="171.29"/>
<line x1="397.5" y1="171.29" x2="394.7" y2="171.29"/>
<line x1="37.5" y1="161.29" x2="39.1" y2="161.29"/>
<line x1="397.5" y1="161.29" x2="395.9" y2="161.29"/>
<line x1="37.5" y1="151.28" x2="39.1" y2="151.28"/>
<line x1="397.5" y1="151.28" x2="395.9" y2="151.28"/>
<line x1="37.5" y1="141.28" x2="39.1" y2="141.28"/>
<line x1="397.5" y1="141.28" x2="395.9" y2="141.28"/>
<line x1="37.5" y1="131.28" x2="40.3" y2="131.28"/>
<line x1="397.5" y1="131.28" x2="394.7" y2="131.28"/>
<line x1="37.5" y1="121.28" x2="39.1" y2="121.28"/>
<line x1="397.5" y1="121.28" x2="395.9" y2="121.28"/>
<line x1="37.5" y1="111.28" x2="39.1" y2="111.28"/>
<line x1="397.5" y1="111.28" x2="395.9" y2="111.28"/>
<line x1="37.5" y1="101.27" x2="39.1" y2="101.27"/>
<line x1="397.5" y1="101.27" x2="395.9" y2="101.27"/>
<line x1="37.5" y1="91.27" x2="40.3" y2="91.27"/>
<line x1="397.5" y1="91.27" x2="394.7" y2="91.27"/>
<line x1="37.5" y1="81.27" x2="39.1" y2="81.27"/>
<line x1="397.5" y1="81.27" x2="395.9" y2="81.27"/>
<line x1="37.5" y1="71.26" x2="39.1" y2="71.26"/>
<line x1="397.5" y1="71.26" x2="395.9" y2="71.26"/>
<line x1="37.5" y1="61.26" x2="39.1" y2="61.26"/>
<line x1="397.5" y1="61.26" x2="395.9" y2="61.26"/>
<line x1="37.5" y1="51.26" x2="40.3" y2="51.26"/>
<line x1="397.5" y1="51.26" x2="394.7" y2="51.26"/>
<line x1="37.5" y1="41.26" x2="39.1" y2="41.26"/>
<line x1="397.5" y1="41.26" x2="395.9" y2="41.26"/>
<line x1="37.5" y1="31.25" x2="39.1" y2="31.25"/>
<line x1="397.5" y1="31.25" x2="395.9" y2="31.25"/>
<line x1="37.5" y1="21.25" x2="39.1" y2="21.25"/>
<line x1="397.5" y1="21.25" x2="395.9" y2="21.25"/>
<line x1="37.5" y1="11.25" x2="40.3" y2="11.25"/>
<line x1="397.5" y1="11.25" x2="394.7" y2="11.25"/>
<line x1="37.5" y1="1.25" x2="39.1" y2="1.25"/>
<line x1="397.5" y1="1.25" x2="395.9" y2="1.25"/>
</g>
<g class="sf" font-size="14" fill="#000">
<text x="44.40" y="236.8" text-anchor="middle">0.0</text>
<text x="35.7" y="215.80" text-anchor="end">0.0</text>
<text x="113.62" y="236.8" text-anchor="middle">0.2</text>
<text x="35.7" y="175.79" text-anchor="end">0.2</text>
<text x="182.84" y="236.8" text-anchor="middle">0.4</text>
<text x="35.7" y="135.78" text-anchor="end">0.4</text>
<text x="252.06" y="236.8" text-anchor="middle">0.6</text>
<text x="35.7" y="95.77" text-anchor="end">0.6</text>
<text x="321.28" y="236.8" text-anchor="middle">0.8</text>
<text x="35.7" y="55.76" text-anchor="end">0.8</text>
<text x="390.50" y="236.8" text-anchor="middle">1.0</text>
<text x="35.7" y="15.75" text-anchor="end">1.0</text>
<text x="217.6" y="255.2" text-anchor="middle" font-style="italic" font-size="13.5">a</text>
<g transform="translate(13.0,139.3) rotate(-90) scale(1.0,1.14)" font-size="13.5">
<text x="0" y="0" font-style="italic">G</text>
<text x="10.1" y="2.8" font-size="9.1">eff</text>
<text x="20.3" y="0">(</text>
<text x="24.4" y="0" font-style="italic">a</text>
<text x="30.2" y="0">)</text>
<text x="35.2" y="0" font-style="italic">/</text>
<text x="39.3" y="0" font-style="italic">G</text>
<text x="49.2" y="3.0999999999999996" font-size="10.5" font-style="italic">N</text>
</g>
</g>
<rect x="97.5" y="188.6" width="290.2" height="23.4" rx="3.5" ry="3.5" fill="#ffffff" stroke="#3a3a3a" stroke-width="1"/>
<line x1="103" y1="202.4" x2="124.1" y2="202.4" stroke="#ff8000" stroke-width="1.2" stroke-dasharray="5.1 2.85"/>
<text x="131.1" y="204.7" class="ss" font-size="10" fill="#0a0a0a">n=1</text>
<line x1="154.2" y1="202.4" x2="165.6" y2="202.4" stroke="#ff0000" stroke-width="1.4"/>
<text x="171.3" y="204.7" class="ss" font-size="10" fill="#0a0a0a">n=2</text>
<line x1="194.0" y1="202.4" x2="217.3" y2="202.4" stroke="#0000ff" stroke-width="1.5" stroke-dasharray="3.1 0.85"/>
<text x="222.3" y="204.7" class="ss" font-size="10" fill="#0a0a0a">n=3</text>
<line x1="245.4" y1="202.4" x2="267.9" y2="202.4" stroke="#008c00" stroke-width="1.5" stroke-dasharray="3.4 1.2"/>
<text x="273.7" y="204.7" class="ss" font-size="10" fill="#0a0a0a">n=4</text>
<line x1="296.8" y1="202.4" x2="318.5" y2="202.4" stroke="#996633" stroke-width="1.3" stroke-dasharray="2.8 0.3"/>
<text x="324.5" y="204.7" class="ss" font-size="10" fill="#0a0a0a">n=5</text>
<line x1="348.1" y1="202.4" x2="359.7" y2="202.4" stroke="#808080" stroke-width="1.0"/>
<text x="364.79999999999995" y="204.7" class="ss" font-size="10" fill="#0a0a0a">n=6</text>
</svg>
</body></html>
